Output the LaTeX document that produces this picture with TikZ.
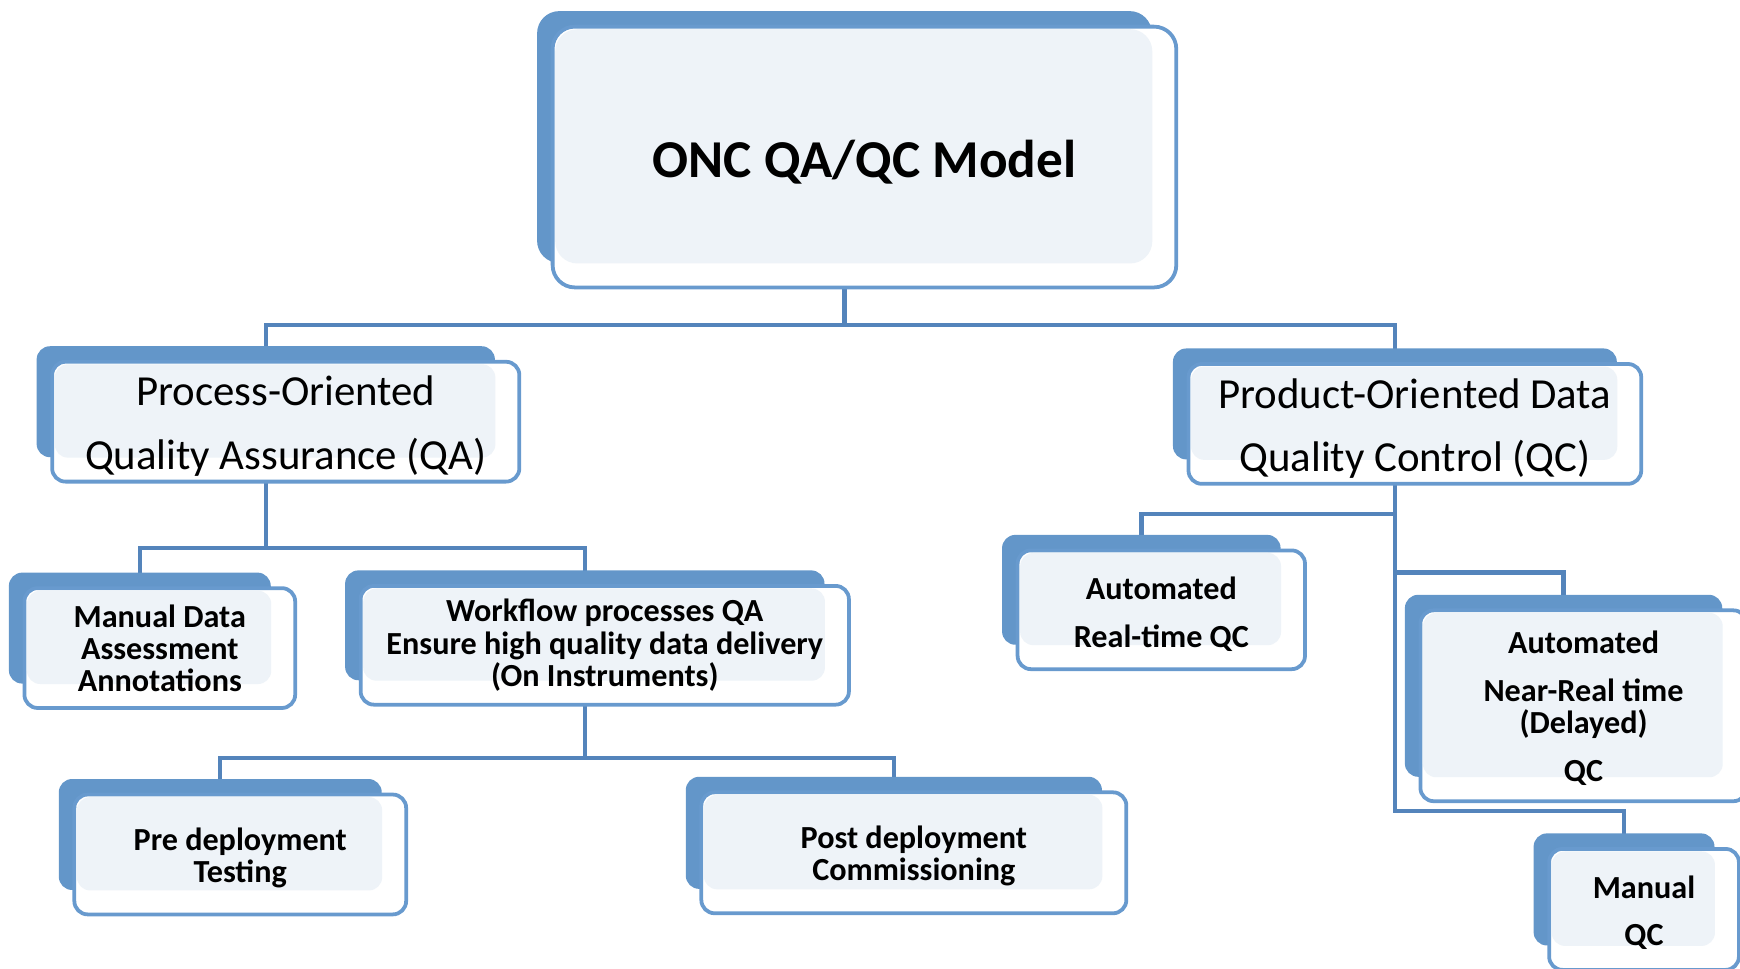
\documentclass[tikz,border=0pt]{standalone}
\usepackage{fontspec}
\setmainfont{Carlito}
\usetikzlibrary{backgrounds}

\definecolor{qcback}{RGB}{99,150,201}
\definecolor{qcedge}{RGB}{104,154,206}
\definecolor{qclight}{RGB}{238,243,248}
\definecolor{qclink}{RGB}{84,132,187}

\def\px{0.5pt}

\tikzset{
	backbox/.style={rectangle, fill=qcback, rounded corners=6pt, inner sep=0pt},
	frontbox/.style={rectangle, fill=white, draw=qcedge, line width=1.7pt, rounded corners=6pt, inner sep=0pt},
	lightfill/.style={fill=qclight, rounded corners=6pt},
	boxtext/.style={align=center, text=black, inner sep=0pt, font=\bfseries\fontsize{14.5}{14.5}\selectfont},
	bigtext/.style={font=\fontsize{19.3}{23}\selectfont},
	link/.style={draw=qclink, line width=2pt},
}

% [box style] name, centre, width, height, text style, text
\newcommand\qcbox[7][]{
	\node[backbox,#1, minimum width=#4*\px, minimum height=#5*\px] (#2) at (#3) {};
	\node[frontbox,#1, minimum width=(#4+8)*\px, minimum height=(#5+8)*\px] (#2-f) at ([shift={(18,18)}]#2.center) {};
	\fill[lightfill,#1] ([shift={(4,4)}]#2-f.north west) rectangle (#2.south east);
	\node[boxtext,#6] (#2-t) at (#2-f.center) {#7};
}

\begin{document}
\begin{tikzpicture}[x=0.5pt, y=-0.5pt]
		\useasboundingbox (0,0) rectangle (1568,873);
		\clip (0,0) rectangle (1568,873);

		\qcbox[rounded corners=10pt]{onc}{761,123.5}{554}{227}{font=\bfseries\fontsize{24}{28}\selectfont, yshift=-2.5pt}{ONC QA/QC Model}
		\qcbox{proc}{239.5,362}{413}{100}{bigtext, yshift=-2pt}{Process-Oriented\\[5.5pt]Quality Assurance (QA)}
		\qcbox{prod}{1257,364}{400}{100}{bigtext, yshift=-2pt}{Product-Oriented Data\\[5.5pt]Quality Control (QC)}

		\qcbox{mand}{126,566}{236}{100}{}{Manual Data\\Assessment\\Annotations}
		\qcbox{wflow}{527,563.5}{432}{99}{}{Workflow processes QA\\Ensure high quality data delivery\\(On Instruments)}
		\qcbox{pre}{198.5,752}{291}{100}{yshift=-1.5pt}{Pre deployment\\Testing}
		\qcbox{post}{805.5,750.5}{375}{101}{yshift=-1.5pt}{Post deployment\\Commissioning}

		\qcbox{autort}{1028.5,531.5}{251}{99}{yshift=-2pt}{Automated\\[7pt]Real-time QC}
		\qcbox{nrt}{1409,618}{286}{164}{yshift=-1pt}{Automated\\[7pt]Near-Real time\\(Delayed)\\[7pt]QC}
		\qcbox{manqc}{1463.5,801.5}{163}{101}{yshift=-1.5pt}{Manual\\[7pt]QC}

		% bus levels
		\coordinate (bus0) at (0,293);
		\coordinate (bus1) at (0,494);
		\coordinate (bus2) at (0,683);
		\coordinate (bus3) at (0,463);
		\coordinate (bus4) at (0,516);
		\coordinate (bus5) at (0,731);

		\begin{scope}[on background layer]
			\draw[link] (onc.center) -- (onc.center |- bus0) -| (proc.center);
			\draw[link] (onc.center |- bus0) -| (prod.center);

			\draw[link] (proc.center) -- (proc.center |- bus1) -| (mand.center);
			\draw[link] (proc.center |- bus1) -| (wflow.center);

			\draw[link] (wflow.center) -- (wflow.center |- bus2) -| (pre.center);
			\draw[link] (wflow.center |- bus2) -| (post.center);

			\draw[link] (prod.center) -- (prod.center |- bus5) -| (manqc.center);
			\draw[link] (prod.center |- bus3) -| (autort.center);
			\draw[link] (prod.center |- bus4) -| (nrt.center);
		\end{scope}
\end{tikzpicture}
\end{document}
